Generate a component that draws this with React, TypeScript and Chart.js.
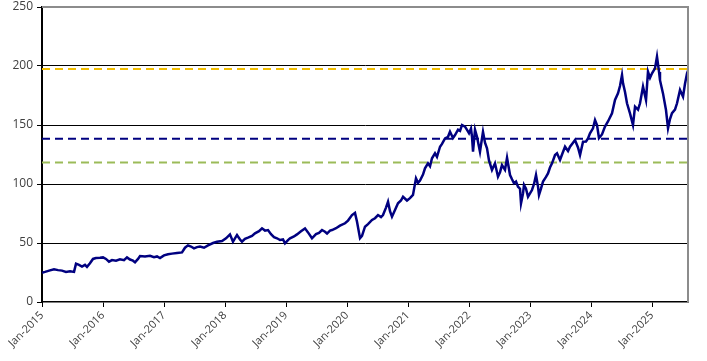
import React, { useEffect, useRef } from "react";
import { Chart, registerables } from "chart.js";

Chart.register(...registerables);

// months since Jan-2015
const monthOffsets: number[] = [
  0, 0.59, 1.57, 2.36, 3.15, 3.93, 4.72, 5.51, 6.3, 6.69, 7.28, 7.87, 8.46, 8.85, 9.44, 10.03, 10.62, 11.41,
  12.0, 12.59, 13.18, 13.77, 14.56, 15.34, 16.13, 16.72, 17.31, 17.9, 18.3, 18.89, 19.28, 20.26, 21.25, 22.03, 22.62, 23.21,
  24.0, 24.79, 25.57, 26.56, 27.54, 28.13, 28.72, 29.31, 29.9, 30.49, 31.08, 31.87, 32.66, 33.64, 34.43, 35.41,
  36.2, 36.98, 37.57, 38.36, 38.95, 39.34, 39.93, 40.52, 41.31, 41.9, 42.69, 43.28, 43.87, 44.46, 45.05, 45.64, 46.23, 46.82, 47.41, 47.8,
  48.39, 48.79, 49.57, 50.16, 50.95, 51.74, 52.33, 53.11, 53.9, 54.49, 55.08, 55.67, 56.07, 56.66, 57.05, 57.84, 58.62, 59.61,
  60.2, 60.98, 61.57, 61.97, 62.56, 62.95, 63.54, 64.13, 64.92, 65.51, 66.1, 66.69, 67.08, 67.67, 68.07, 68.46, 68.85, 69.44, 70.03, 70.62, 71.02, 71.8,
  72.39, 72.98, 73.57, 73.97, 74.36, 74.95, 75.34, 75.93, 76.33, 76.72, 77.31, 77.7, 78.3, 78.69, 79.28, 79.87, 80.26, 80.85, 81.25, 81.84, 82.23, 82.62, 83.21, 83.61,
  84.0, 84.39, 84.59, 84.79, 85.18, 85.57, 86.16, 86.75, 87.15, 87.54, 87.93, 88.52, 89.11, 89.7, 90.1, 90.49, 91.08, 91.48, 92.07, 92.46, 92.85, 93.25, 93.64, 94.03, 94.23, 94.62, 94.82, 95.21, 95.61,
  96.0, 96.39, 96.79, 97.18, 97.57, 97.77, 98.16, 98.56, 99.15, 99.54, 99.93, 100.33, 100.92, 101.31, 101.9, 102.3, 102.89, 103.48, 103.87, 104.46, 104.85, 105.44, 105.84, 106.43, 107.02, 107.41,
  107.8, 108.39, 108.79, 109.18, 109.57, 110.16, 110.75, 111.34, 112.13, 112.72, 113.31, 113.7, 114.1, 114.3, 114.69, 115.08, 115.67, 116.26, 116.66, 117.25, 117.64, 118.23, 118.82, 119.21, 119.61,
  120.0, 120.59, 120.98, 121.38, 121.57, 122.16, 122.75, 123.15, 123.54, 123.93, 124.52, 124.92, 125.51, 126.1, 126.49, 126.89, 127.08,
];

const prices: number[] = [
  24.8, 25.5, 26.8, 27.8, 27.0, 26.6, 25.5, 26.0, 25.5, 32.5, 31.5, 30.0, 31.5, 29.8, 32.8, 36.5, 37.2, 37.5,
  37.8, 36.5, 34.2, 35.5, 35.0, 36.2, 35.5, 37.8, 36.0, 35.0, 33.6, 36.5, 39.0, 38.5, 39.2, 38.0, 38.6, 37.2,
  39.5, 40.5, 41.0, 41.5, 42.0, 46.0, 48.0, 47.0, 45.5, 46.5, 47.0, 46.0, 48.0, 50.0, 51.0, 51.7,
  54.0, 57.3, 51.1, 56.8, 53.0, 51.1, 53.5, 54.5, 56.0, 58.2, 60.0, 62.4, 60.5, 61.0, 57.5, 55.0, 54.0, 52.5, 53.0, 49.7,
  52.5, 54.0, 55.5, 57.3, 60.0, 62.4, 59.0, 54.0, 57.5, 58.5, 61.0, 59.5, 58.0, 60.5, 61.0, 62.5, 64.7, 66.7,
  69.0, 73.7, 75.5, 68.0, 54.0, 56.0, 63.8, 66.0, 69.5, 71.0, 73.7, 72.0, 73.7, 80.0, 85.0, 77.0, 72.3, 78.0, 83.6, 86.0, 89.2, 86.0,
  88.0, 90.7, 104.8, 101.0, 103.0, 108.0, 113.3, 117.5, 115.0, 121.8, 126.0, 123.0, 131.6, 134.0, 138.7, 140.0, 144.3, 139.0, 141.5, 146.0, 145.0, 150.0, 148.6, 145.8,
  143.0, 147.0, 140.0, 127.4, 146.0, 140.0, 127.4, 144.3, 135.0, 130.3, 120.0, 111.9, 117.5, 106.2, 110.0, 116.1, 112.0, 122.3, 107.6, 104.0, 100.6, 102.0, 97.7, 96.0, 83.6, 92.0, 99.2, 96.0, 89.2,
  92.0, 94.9, 100.0, 107.6, 98.0, 90.7, 96.0, 102.0, 106.0, 109.0, 114.0, 117.5, 124.6, 126.0, 120.3, 125.0, 131.6, 128.0, 131.6, 135.0, 137.3, 131.0, 124.6, 135.9, 136.0, 138.7,
  143.0, 147.2, 154.2, 150.0, 139.0, 142.0, 148.6, 153.0, 159.9, 171.2, 176.8, 183.0, 192.4, 185.3, 178.0, 168.4, 159.9, 150.0, 165.5, 163.0, 168.4, 182.5, 171.2, 195.2, 190.0,
  193.8, 198.0, 207.9, 195.0, 188.0, 176.8, 162.7, 147.2, 155.0, 160.0, 163.0, 168.4, 179.7, 174.0, 185.0, 193.8, 196.0,
];

const tickLabels: string[] = [
  "Jan-2015", "Jan-2016", "Jan-2017", "Jan-2018", "Jan-2019", "Jan-2020",
  "Jan-2021", "Jan-2022", "Jan-2023", "Jan-2024", "Jan-2025",
];

const refGold = 197.5;
const refNavy = 138.3;
const refGreen = 118.3;
const xMax = 127.08;

const borderPlugin = {
  id: "borders",
  afterDatasetsDraw(chart: any) {
    const { ctx, chartArea } = chart;
    ctx.save();
    ctx.strokeStyle = "#8c8c8c";
    ctx.lineWidth = 2;
    ctx.beginPath();
    ctx.moveTo(chartArea.left, chartArea.top);
    ctx.lineTo(chartArea.right, chartArea.top);
    ctx.lineTo(chartArea.right, chartArea.bottom);
    ctx.stroke();
    ctx.restore();
  },
};

export default function App() {
  const ref = useRef<HTMLCanvasElement | null>(null);
  useEffect(() => {
    document.body.style.margin = "0";
    const canvas = ref.current!;
    const pts = monthOffsets.map((m, i) => ({ x: m, y: prices[i] }));
    const refLine = (v: number) => [{ x: 0, y: v }, { x: xMax, y: v }];
    const chart = new Chart(canvas, {
      type: "line",
      data: {
        datasets: [
          { data: pts, borderColor: "#000080", borderWidth: 2.5, pointRadius: 0, tension: 0, order: 0 },
          { data: refLine(refGold), borderColor: "#F2BE00", borderWidth: 2, borderDash: [8, 5], pointRadius: 0, order: 1 },
          { data: refLine(refNavy), borderColor: "#000080", borderWidth: 2, borderDash: [8, 5], pointRadius: 0, order: 1 },
          { data: refLine(refGreen), borderColor: "#9BBB59", borderWidth: 2, borderDash: [8, 5], pointRadius: 0, order: 1 },
        ],
      },
      options: {
        responsive: false,
        animation: false,
        layout: { padding: { top: 7, right: 19, left: 0, bottom: 0 } },
        plugins: { legend: { display: false }, tooltip: { enabled: false } },
        scales: {
          x: {
            type: "linear",
            min: 0,
            max: xMax,
            afterBuildTicks: (scale: any) => {
              scale.ticks = tickLabels.map((_, i) => ({ value: i * 12 }));
            },
            afterFit: (scale: any) => {
              scale.height = 59;
              scale.paddingLeft = 0;
              scale.paddingRight = 0;
            },
            grid: { drawOnChartArea: false, drawTicks: true, tickLength: 5, color: "#000000" },
            border: { color: "#000000", width: 1.5 },
            ticks: {
              autoSkip: false,
              maxRotation: 45,
              minRotation: 45,
              padding: 2,
              color: "#404040",
              font: { family: "'Open Sans', sans-serif", size: 11 },
              callback: (v: any) => tickLabels[Math.round(Number(v) / 12)] ?? "",
            },
          },
          y: {
            min: 0,
            max: 250,
            afterFit: (scale: any) => {
              scale.width = 42;
              scale.paddingTop = 0;
              scale.paddingBottom = 0;
            },
            grid: {
              color: (c: any) => (c.tick && (c.tick.value === 250 || c.tick.value === 0) ? "rgba(0,0,0,0)" : "#000000"),
              lineWidth: 1,
              tickLength: 5,
              tickColor: "#000000",
            },
            border: { color: "#000000", width: 2 },
            ticks: {
              stepSize: 50,
              padding: 4,
              color: "#404040",
              font: { family: "'Open Sans', sans-serif", size: 12 },
            },
          },
        },
      },
      plugins: [borderPlugin],
    });
    return () => chart.destroy();
  }, []);
  return <canvas ref={ref} width={707} height={361} style={{ display: "block" }} />;
}
